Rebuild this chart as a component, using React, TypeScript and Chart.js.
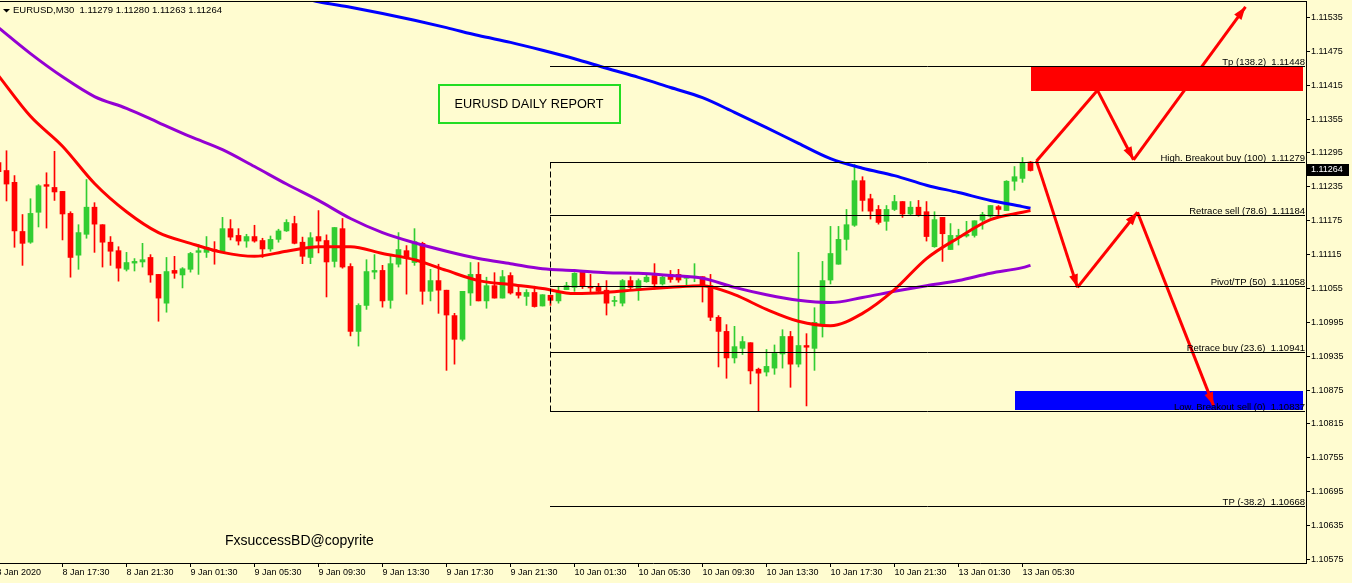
import React, { useEffect, useRef } from 'react';
import { Chart, registerables } from 'chart.js';

Chart.register(...registerables);

// ---------- candle data (EURUSD M30) ----------
const opens = [
  1.11278, 1.11264, 1.11243, 1.11156, 1.11137, 1.11190, 1.11239, 1.11234, 1.11227, 1.11188,
  1.11114, 1.11151, 1.11199, 1.11168, 1.11137, 1.11122, 1.11089, 1.11100, 1.11102, 1.11110,
  1.11080, 1.11029, 1.11087, 1.11079, 1.11089, 1.11119, 1.11119, 1.11124, 1.11119, 1.11161,
  1.11149, 1.11139, 1.11147, 1.11140, 1.11125, 1.11142, 1.11157, 1.11170, 1.11137, 1.11110,
  1.11147, 1.11140, 1.11103, 1.11161, 1.11094, 1.10979, 1.11025, 1.11084, 1.11087, 1.11034,
  1.11098, 1.11122, 1.11101, 1.11135, 1.11050, 1.11069, 1.11052, 1.11007, 1.10965, 1.11047,
  1.11080, 1.11033, 1.11060, 1.11038, 1.11078, 1.11048, 1.11041, 1.11048, 1.11024, 1.11043,
  1.11033, 1.11053, 1.11057, 1.11085, 1.11057, 1.11057, 1.11052, 1.11032, 1.11029, 1.11069,
  1.11052, 1.11067, 1.11078, 1.11063, 1.11080, 1.11080, 1.11073, 1.11075, 1.11076, 1.11060,
  1.11004, 1.10979, 1.10932, 1.10949, 1.10959, 1.10912, 1.10907, 1.10914, 1.10939, 1.10970,
  1.10921, 1.10954, 1.10949, 1.10990, 1.11070, 1.11098, 1.11142, 1.11167, 1.11246, 1.11214,
  1.11195, 1.11174, 1.11195, 1.11209, 1.11187, 1.11199, 1.11191, 1.11129, 1.11181, 1.11124,
  1.11146, 1.11148, 1.11149, 1.11176, 1.11183, 1.11200, 1.11193, 1.11245, 1.11250, 1.11279,
];
const highs = [
  1.11285, 1.11299, 1.11255, 1.11186, 1.11214, 1.11239, 1.11260, 1.11298, 1.11227, 1.11191,
  1.11168, 1.11248, 1.11207, 1.11168, 1.11147, 1.11129, 1.11119, 1.11108, 1.11135, 1.11115,
  1.11080, 1.11110, 1.11112, 1.11092, 1.11119, 1.11133, 1.11147, 1.11138, 1.11181, 1.11177,
  1.11161, 1.11151, 1.11167, 1.11144, 1.11148, 1.11160, 1.11177, 1.11183, 1.11146, 1.11154,
  1.11193, 1.11150, 1.11163, 1.11179, 1.11099, 1.11028, 1.11106, 1.11115, 1.11096, 1.11115,
  1.11154, 1.11131, 1.11161, 1.11137, 1.11089, 1.11098, 1.11052, 1.11011, 1.11050, 1.11101,
  1.11101, 1.11075, 1.11083, 1.11087, 1.11083, 1.11059, 1.11053, 1.11059, 1.11044, 1.11043,
  1.11059, 1.11066, 1.11083, 1.11085, 1.11080, 1.11064, 1.11069, 1.11041, 1.11071, 1.11076,
  1.11072, 1.11080, 1.11099, 1.11078, 1.11087, 1.11089, 1.11078, 1.11099, 1.11076, 1.11080,
  1.11007, 1.10991, 1.10988, 1.10970, 1.10959, 1.10914, 1.10947, 1.10955, 1.10982, 1.10979,
  1.11119, 1.10975, 1.11021, 1.11103, 1.11165, 1.11165, 1.11195, 1.11275, 1.11253, 1.11222,
  1.11202, 1.11202, 1.11220, 1.11209, 1.11209, 1.11211, 1.11209, 1.11191, 1.11181, 1.11170,
  1.11160, 1.11174, 1.11175, 1.11190, 1.11202, 1.11202, 1.11246, 1.11271, 1.11287, 1.11280,
];
const lows = [
  1.11253, 1.11210, 1.11128, 1.11096, 1.11135, 1.11164, 1.11162, 1.11211, 1.11141, 1.11075,
  1.11089, 1.11144, 1.11119, 1.11093, 1.11096, 1.11068, 1.11086, 1.11086, 1.11093, 1.11066,
  1.10997, 1.11013, 1.11073, 1.11056, 1.11084, 1.11080, 1.11110, 1.11098, 1.11119, 1.11141,
  1.11132, 1.11128, 1.11137, 1.11110, 1.11121, 1.11137, 1.11156, 1.11134, 1.11099, 1.11099,
  1.11118, 1.11040, 1.11093, 1.11091, 1.10971, 1.10953, 1.11018, 1.11072, 1.11022, 1.11020,
  1.11093, 1.11045, 1.11096, 1.11027, 1.11033, 1.11011, 1.10910, 1.10921, 1.10962, 1.11025,
  1.11033, 1.11020, 1.11038, 1.11038, 1.11045, 1.11038, 1.11025, 1.11022, 1.11024, 1.11025,
  1.11029, 1.11053, 1.11050, 1.11055, 1.11048, 1.11048, 1.11008, 1.11024, 1.11024, 1.11053,
  1.11034, 1.11066, 1.11054, 1.11061, 1.11066, 1.11066, 1.11060, 1.11067, 1.11031, 1.10998,
  1.10916, 1.10896, 1.10923, 1.10938, 1.10886, 1.10837, 1.10900, 1.10903, 1.10914, 1.10880,
  1.10916, 1.10847, 1.10910, 1.10969, 1.11063, 1.11098, 1.11123, 1.11165, 1.11192, 1.11178,
  1.11169, 1.11158, 1.11193, 1.11181, 1.11184, 1.11183, 1.11139, 1.11128, 1.11103, 1.11124,
  1.11132, 1.11146, 1.11146, 1.11160, 1.11181, 1.11186, 1.11193, 1.11229, 1.11243, 1.11263,
];
const closes = [
  1.11262, 1.11240, 1.11157, 1.11135, 1.11188, 1.11237, 1.11236, 1.11226, 1.11187, 1.11110,
  1.11154, 1.11199, 1.11169, 1.11137, 1.11121, 1.11091, 1.11101, 1.11103, 1.11106, 1.11079,
  1.11038, 1.11085, 1.11082, 1.11090, 1.11117, 1.11122, 1.11128, 1.11121, 1.11161, 1.11146,
  1.11139, 1.11147, 1.11139, 1.11125, 1.11142, 1.11157, 1.11172, 1.11135, 1.11112, 1.11145,
  1.11139, 1.11102, 1.11163, 1.11093, 1.10979, 1.11025, 1.11085, 1.11087, 1.11033, 1.11099,
  1.11124, 1.11110, 1.11138, 1.11050, 1.11069, 1.11052, 1.11008, 1.10965, 1.11050, 1.11080,
  1.11033, 1.11060, 1.11038, 1.11076, 1.11047, 1.11043, 1.11048, 1.11023, 1.11044, 1.11034,
  1.11048, 1.11060, 1.11082, 1.11059, 1.11056, 1.11050, 1.11029, 1.11033, 1.11069, 1.11057,
  1.11069, 1.11075, 1.11063, 1.11075, 1.11071, 1.11070, 1.11076, 1.11076, 1.11060, 1.11004,
  1.10979, 1.10932, 1.10952, 1.10961, 1.10909, 1.10905, 1.10917, 1.10940, 1.10970, 1.10921,
  1.10954, 1.10951, 1.10995, 1.11069, 1.11117, 1.11142, 1.11168, 1.11246, 1.11211, 1.11192,
  1.11172, 1.11195, 1.11209, 1.11187, 1.11199, 1.11184, 1.11147, 1.11177, 1.11152, 1.11149,
  1.11149, 1.11151, 1.11175, 1.11186, 1.11202, 1.11195, 1.11245, 1.11253, 1.11278, 1.11264,
];

// ---------- moving averages (sampled bars) ----------
const maBars = [0, 4, 8, 12, 16, 20, 24, 28, 32, 36, 40, 44, 48, 52, 56, 60, 64, 68, 72, 76, 80, 84, 88, 92, 96, 100, 104, 108, 112, 116, 120, 124, 128, 129];
const maRed = [
  1.11432, 1.11360, 1.11307, 1.11241, 1.11191, 1.11154, 1.11135, 1.11119, 1.11112, 1.11121,
  1.11129, 1.11129, 1.11117, 1.11106, 1.11087, 1.11069, 1.11062, 1.11055, 1.11046, 1.11048,
  1.11053, 1.11057, 1.11060, 1.11044, 1.11018, 1.10997, 1.10989, 1.11011, 1.11053, 1.11108,
  1.11145, 1.11177, 1.11190, 1.11193,
];
const maPurple = [
  1.11517, 1.11471, 1.11430, 1.11395, 1.11374, 1.11349, 1.11324, 1.11301, 1.11271, 1.11240,
  1.11211, 1.11179, 1.11154, 1.11136, 1.11121, 1.11108, 1.11099, 1.11090, 1.11087, 1.11083,
  1.11082, 1.11078, 1.11073, 1.11057, 1.11044, 1.11034, 1.11030, 1.11039, 1.11050, 1.11060,
  1.11069, 1.11082, 1.11092, 1.11096,
];
const blueBars = [36, 40, 44, 48, 52, 56, 60, 64, 68, 72, 76, 80, 84, 88, 92, 96, 100, 104, 108, 112, 116, 120, 124, 128, 129];
const maBlue = [
  1.11576, 1.11563, 1.11553, 1.11542, 1.11530, 1.11517, 1.11503, 1.11491, 1.11477, 1.11462,
  1.11445, 1.11429, 1.11411, 1.11393, 1.11367, 1.11340, 1.11312, 1.11285, 1.11268, 1.11255,
  1.11238, 1.11225, 1.11211, 1.11200, 1.11197,
];

// ---------- axes ----------
const yTicks = [
  1.10575, 1.10635, 1.10695, 1.10755, 1.10815, 1.10875, 1.10935, 1.10995, 1.11055,
  1.11115, 1.11175, 1.11235, 1.11295, 1.11355, 1.11415, 1.11475, 1.11535,
];
const xTickBars = [-0.25, 8, 16, 24, 32, 40, 48, 56, 64, 72, 80, 88, 96, 104, 112, 120, 128];
const xTickLabels = [
  '8 Jan 2020', '8 Jan 17:30', '8 Jan 21:30', '9 Jan 01:30', '9 Jan 05:30', '9 Jan 09:30',
  '9 Jan 13:30', '9 Jan 17:30', '9 Jan 21:30', '10 Jan 01:30', '10 Jan 05:30', '10 Jan 09:30',
  '10 Jan 13:30', '10 Jan 17:30', '10 Jan 21:30', '13 Jan 01:30', '13 Jan 05:30',
];
const X_MIN = 0.1875;
const X_MAX = 163.4375;
const Y_MIN = 1.1056879;
const Y_MAX = 1.1156245;

// ---------- fibonacci ----------
const fibNames = [
  'Tp (138.2)', 'High. Breakout buy (100)', 'Retrace sell (78.6)', 'Pivot/TP (50)',
  'Retrace buy (23.6)', 'Low. Breakout sell (0)', 'TP (-38.2)',
];
const fibLevels = [1.11448, 1.11279, 1.11184, 1.11058, 1.10941, 1.10837, 1.10668];
const fibStartBar = 69;
const fibEndBar = 163.25;

// ---------- zones ----------
const zoneStartBars = [129, 127];
const zoneEndBars = [163, 163];
const zoneTops = [1.11447, 1.10874];
const zoneBottoms = [1.11404, 1.10840];
const zoneColors = ['#FF0000', '#0000FF'];

// ---------- arrows ----------
const arrowFromBars = [129.75, 137.375, 141.875, 129.75, 134.875, 142.375];
const arrowFromPrices = [1.11281, 1.11406, 1.11283, 1.11281, 1.11057, 1.11190];
const arrowToBars = [137.375, 141.875, 155.875, 134.875, 142.375, 151.875];
const arrowToPrices = [1.11406, 1.11283, 1.11554, 1.11057, 1.11190, 1.10848];
const arrowHeads = [false, true, true, true, true, true];

const headerText = 'EURUSD,M30  1.11279 1.11280 1.11263 1.11264';
const titleText = 'EURUSD DAILY REPORT';
const watermarkText = 'FxsuccessBD@copyrite';

const BG = '#FFFCD0';
const UP = '#32CD32';
const DOWN = '#FF0000';
const FONT = '"Liberation Sans", Arial, sans-serif';

const overlayPlugin = {
  id: 'overlay',
  beforeDraw(chart: any) {
    const ctx = chart.ctx;
    ctx.save();
    ctx.fillStyle = BG;
    ctx.fillRect(0, 0, chart.width, chart.height);
    ctx.restore();
  },
  beforeDatasetsDraw(chart: any) {
    const { ctx, scales } = chart;
    const x = scales.x, y = scales.y;
    ctx.save();
    for (let i = 0; i < zoneStartBars.length; i++) {
      const x1 = Math.round(x.getPixelForValue(zoneStartBars[i]));
      const x2 = Math.round(x.getPixelForValue(zoneEndBars[i]));
      const y1 = Math.round(y.getPixelForValue(zoneTops[i]));
      const y2 = Math.round(y.getPixelForValue(zoneBottoms[i]));
      ctx.fillStyle = zoneColors[i];
      ctx.fillRect(x1, y1, x2 - x1, y2 - y1);
    }
    ctx.restore();
  },
  afterDatasetsDraw(chart: any) {
    const { ctx, scales, chartArea } = chart;
    const x = scales.x, y = scales.y;
    ctx.save();
    // fib lines
    const fx1 = Math.round(x.getPixelForValue(fibStartBar)) - 1;
    const fx2 = Math.round(x.getPixelForValue(fibEndBar));
    ctx.strokeStyle = '#000';
    ctx.lineWidth = 1;
    ctx.font = `9.5px ${FONT}`;
    ctx.fillStyle = '#000';
    ctx.textAlign = 'right';
    ctx.textBaseline = 'alphabetic';
    for (let i = 0; i < fibLevels.length; i++) {
      const py = Math.floor(y.getPixelForValue(fibLevels[i])) + 0.5;
      ctx.beginPath();
      ctx.moveTo(fx1, py);
      ctx.lineTo(fx2, py);
      ctx.stroke();
      ctx.fillText(`${fibNames[i]}  ${fibLevels[i].toFixed(5)}`, fx2, py - 2);
    }
    // dashed vertical
    const vx = fx1 + 0.5;
    ctx.setLineDash([6, 3]);
    ctx.beginPath();
    ctx.moveTo(vx, Math.floor(y.getPixelForValue(fibLevels[1])) + 0.5);
    ctx.lineTo(vx, Math.floor(y.getPixelForValue(fibLevels[5])) + 0.5);
    ctx.stroke();
    ctx.setLineDash([]);

    // arrow heads
    ctx.fillStyle = '#FF0000';
    for (let i = 0; i < arrowHeads.length; i++) {
      if (!arrowHeads[i]) continue;
      const ax1 = x.getPixelForValue(arrowFromBars[i]);
      const ay1 = y.getPixelForValue(arrowFromPrices[i]);
      const ax2 = x.getPixelForValue(arrowToBars[i]);
      const ay2 = y.getPixelForValue(arrowToPrices[i]);
      const ang = Math.atan2(ay2 - ay1, ax2 - ax1);
      const len = 13, hw = 4.5;
      const bx = ax2 - Math.cos(ang) * len, by = ay2 - Math.sin(ang) * len;
      ctx.beginPath();
      ctx.moveTo(ax2, ay2);
      ctx.lineTo(bx - Math.sin(ang) * hw, by + Math.cos(ang) * hw);
      ctx.lineTo(bx + Math.sin(ang) * hw, by - Math.cos(ang) * hw);
      ctx.closePath();
      ctx.fill();
    }

    // top border
    ctx.fillStyle = '#000';
    ctx.fillRect(0, 1, chartArea.right + 1, 1);

    // header
    ctx.beginPath();
    ctx.moveTo(3, 9);
    ctx.lineTo(10, 9);
    ctx.lineTo(6.5, 12.5);
    ctx.closePath();
    ctx.fill();
    ctx.font = `9.5px ${FONT}`;
    ctx.textAlign = 'left';
    ctx.textBaseline = 'alphabetic';
    ctx.fillText(headerText, 13, 13);

    // title box
    ctx.strokeStyle = '#22DD22';
    ctx.lineWidth = 2;
    ctx.strokeRect(439, 85, 181, 38);
    ctx.fillStyle = '#000';
    ctx.font = `12.7px ${FONT}`;
    ctx.textAlign = 'center';
    ctx.textBaseline = 'middle';
    ctx.fillText(titleText, 529, 104);

    // watermark
    ctx.font = `14px ${FONT}`;
    ctx.textAlign = 'left';
    ctx.textBaseline = 'alphabetic';
    ctx.fillText(watermarkText, 225, 545);

    // current price box
    const last = closes[closes.length - 1];
    const lp = Math.round(y.getPixelForValue(last));
    ctx.fillStyle = '#000';
    ctx.fillRect(chartArea.right + 1, lp - 6, 42, 12);
    ctx.fillStyle = '#FFF';
    ctx.font = `9px ${FONT}`;
    ctx.textAlign = 'left';
    ctx.textBaseline = 'middle';
    ctx.fillText(last.toFixed(5), chartArea.right + 5, lp);
    ctx.restore();
  },
};

export default function App() {
  const ref = useRef<HTMLCanvasElement | null>(null);
  useEffect(() => {
    document.body.style.margin = '0';
    const canvas = ref.current;
    if (!canvas) return;
    const bars = opens.map((_, i) => i);
    const colors = bars.map((i) => (closes[i] >= opens[i] ? UP : DOWN));
    const lineCommon = { type: 'line' as const, pointRadius: 0, borderWidth: 3, fill: false, cubicInterpolationMode: 'monotone' as const };
    const arrowSets = arrowFromBars.map((b, i) => ({
      type: 'line' as const,
      data: [
        { x: b, y: arrowFromPrices[i] },
        { x: arrowToBars[i], y: arrowToPrices[i] },
      ],
      borderColor: '#FF0000',
      borderWidth: 3,
      pointRadius: 0,
      order: 1,
    }));
    const chart = new Chart(canvas, {
      type: 'bar',
      data: {
        datasets: [
          {
            type: 'bar',
            data: bars.map((i) => ({ x: i, y: [lows[i], highs[i]] })) as any,
            backgroundColor: colors,
            borderWidth: 0,
            grouped: false,
            barPercentage: 1,
            categoryPercentage: 1,
            maxBarThickness: 1,
            order: 9,
          } as any,
          {
            type: 'bar',
            data: bars.map((i) => ({ x: i, y: [opens[i], closes[i]] })) as any,
            backgroundColor: colors,
            borderWidth: 0,
            grouped: false,
            barPercentage: 1,
            categoryPercentage: 1,
            maxBarThickness: 5,
            minBarLength: 1,
            order: 8,
          } as any,
          { ...lineCommon, data: blueBars.map((b, i) => ({ x: b, y: maBlue[i] })), borderColor: '#0000FF', order: 5 } as any,
          { ...lineCommon, data: maBars.map((b, i) => ({ x: b, y: maPurple[i] })), borderColor: '#9400D3', order: 4 } as any,
          { ...lineCommon, data: maBars.map((b, i) => ({ x: b, y: maRed[i] })), borderColor: '#FF0000', order: 3 } as any,
          ...(arrowSets as any[]),
        ],
      },
      options: {
        responsive: false,
        animation: false,
        devicePixelRatio: 1,
        events: [],
        layout: { padding: { top: 2, left: 0, right: 0, bottom: 0 } },
        plugins: { legend: { display: false }, tooltip: { enabled: false }, title: { display: false } },
        scales: {
          x: {
            type: 'linear',
            position: 'bottom',
            min: X_MIN,
            max: X_MAX,
            offset: false,
            grid: { display: true, drawOnChartArea: false, drawTicks: true, tickLength: 4, color: '#000', offset: false },
            border: { display: true, color: '#000', width: 1 },
            ticks: {
              autoSkip: false,
              maxRotation: 0,
              minRotation: 0,
              align: 'start',
              padding: 0,
              color: '#000',
              font: { family: FONT, size: 9 },
              callback: (_v: any, i: number) => xTickLabels[i],
            },
            afterBuildTicks: (s: any) => {
              s.ticks = xTickBars.map((v) => ({ value: v }));
            },
            afterFit: (s: any) => {
              s.height = 20;
              s.paddingLeft = 0;
              s.paddingRight = 0;
            },
          } as any,
          y: {
            type: 'linear',
            position: 'right',
            min: Y_MIN,
            max: Y_MAX,
            grid: { display: true, drawOnChartArea: false, drawTicks: true, tickLength: 4, color: '#000' },
            border: { display: true, color: '#000', width: 1 },
            ticks: {
              autoSkip: false,
              padding: 1,
              color: '#000',
              font: { family: FONT, size: 9 },
              callback: (v: any) => Number(v).toFixed(5),
            },
            afterBuildTicks: (s: any) => {
              s.ticks = yTicks.map((v) => ({ value: v }));
            },
            afterFit: (s: any) => {
              s.width = 46;
              s.paddingTop = 0;
              s.paddingBottom = 0;
            },
          } as any,
        },
      } as any,
      plugins: [overlayPlugin],
    });
    return () => chart.destroy();
  }, []);
  return (
    <div style={{ width: 1352, height: 583, overflow: 'hidden' }}>
      <canvas ref={ref} width={1352} height={583} style={{ display: 'block', width: 1352, height: 583 }} />
    </div>
  );
}
